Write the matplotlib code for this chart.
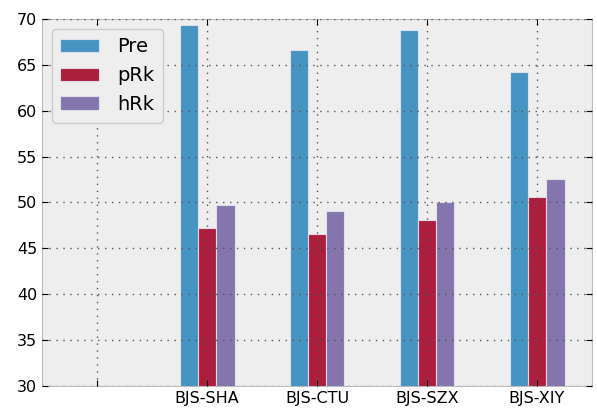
import numpy as np
import matplotlib
matplotlib.use("Agg")
import matplotlib.pyplot as plt

# datos (la primera categoria va vacia)
rutas = ["", "BJS-SHA", "BJS-CTU", "BJS-SZX", "BJS-XIY"]
pre = [np.nan, 69.35, 66.62, 68.80, 64.19]
prk = [np.nan, 47.19, 46.57, 48.13, 50.57]
hrk = [np.nan, 49.73, 49.11, 50.02, 52.56]

series = [("Pre", pre, "#348ABD"), ("pRk", prk, "#A60628"), ("hRk", hrk, "#7A68A6")]

fig = plt.figure(figsize=(5.97, 4.09), dpi=100)
ax = fig.add_axes([42 / 597, 1 - 386 / 409, 550 / 597, 367 / 409])
ax.set_facecolor("#eeeeee")

x = np.arange(len(rutas))
w = 0.5 / 3
for i, (nombre, vals, col) in enumerate(series):
    ax.bar(x + (i - 1) * w, vals, w, color=col, edgecolor="#e4e4f0",
           linewidth=0.8, label=nombre, alpha=0.9)

ax.set_xlim(-0.5, len(rutas) - 0.5)
ax.set_ylim(30, 70)
ax.set_xticks(x)
ax.set_xticklabels(rutas, fontsize=11.5)
ax.set_yticks(np.arange(30, 71, 5))
ax.tick_params(axis="y", labelsize=11.5)
ax.tick_params(direction="in", top=True, right=True, length=4, color="black")
ax.set_axisbelow(False)
ax.grid(True, color="#555555", ls=(0, (1, 4)), lw=1.0)
for s in ax.spines.values():
    s.set_color("#bcbcbc")

leg = ax.legend(loc="upper left", fontsize=14, fancybox=True, handlelength=2.0,
                handleheight=0.7, handletextpad=0.9, borderpad=0.45,
                labelspacing=0.5, framealpha=1)
leg.get_frame().set_facecolor("#eeeeee")
leg.get_frame().set_edgecolor("#cccccc")

fig.savefig("out.png", dpi=100)
